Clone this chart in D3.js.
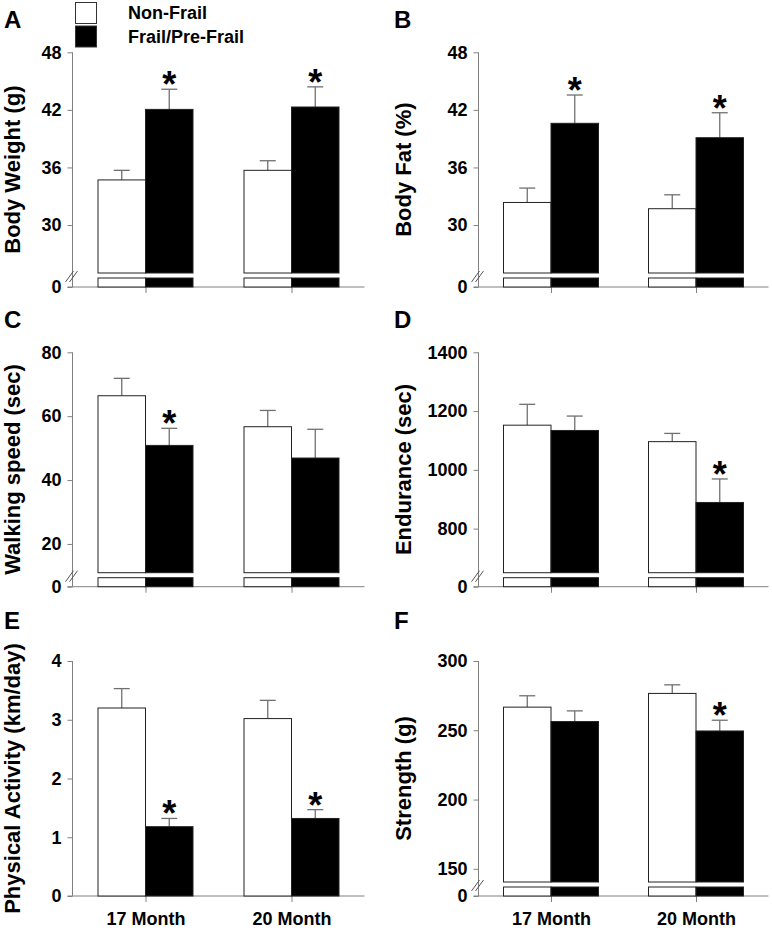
<!DOCTYPE html>
<html><head><meta charset="utf-8">
<script src="https://cdn.jsdelivr.net/npm/d3@7"></script>
<style>
body{margin:0;background:#fff}
svg{display:block}
text{font-family:"Liberation Sans",Arial,Helvetica,sans-serif;font-weight:bold;fill:#000}
</style>
</head><body>
<svg id="chart" width="772" height="930"></svg>
<script>
// ---------- DATA ----------
const categories = ["17 Month", "20 Month"];
const seriesNames = ["Non-Frail", "Frail/Pre-Frail"];

// A: Body Weight (g)
const bodyWeightNonFrail   = [34.7, 35.7];
const bodyWeightNonFrailSE = [1.0, 1.0];
const bodyWeightFrail      = [42.05, 42.3];
const bodyWeightFrailSE    = [2.1, 2.1];
const bodyWeightTicks      = [30, 36, 42, 48];
const bodyWeightSig        = [[false, true], [false, true]];

// B: Body Fat (%)
const bodyFatNonFrail   = [32.35, 31.7];
const bodyFatNonFrailSE = [1.5, 1.45];
const bodyFatFrail      = [40.6, 39.1];
const bodyFatFrailSE    = [2.95, 2.6];
const bodyFatTicks      = [30, 36, 42, 48];
const bodyFatSig        = [[false, true], [false, true]];

// C: Walking speed (sec)
const walkingNonFrail   = [66.4, 56.7];
const walkingNonFrailSE = [5.45, 5.1];
const walkingFrail      = [50.85, 46.9];
const walkingFrailSE    = [5.35, 9.0];
const walkingTicks      = [20, 40, 60, 80];
const walkingSig        = [[false, true], [false, false]];

// D: Endurance (sec)
const enduranceNonFrail   = [1152, 1096];
const enduranceNonFrailSE = [71, 28];
const enduranceFrail      = [1134, 889];
const enduranceFrailSE    = [49, 80];
const enduranceTicks      = [800, 1000, 1200, 1400];
const enduranceSig        = [[false, false], [false, true]];

// E: Physical Activity (km/day)
const activityNonFrail   = [3.20, 3.02];
const activityNonFrailSE = [0.33, 0.31];
const activityFrail      = [1.18, 1.32];
const activityFrailSE    = [0.14, 0.15];
const activityTicks      = [0, 1, 2, 3, 4];
const activitySig        = [[false, true], [false, true]];

// F: Strength (g)
const strengthNonFrail   = [266.7, 276.6];
const strengthNonFrailSE = [8.2, 6.2];
const strengthFrail      = [256.3, 249.5];
const strengthFrailSE    = [7.7, 7.75];
const strengthTicks      = [150, 200, 250, 300];
const strengthSig        = [[false, false], [false, true]];

// ---------- PANEL CONFIG ----------
const panels = [
  {letter:"A", title:"Body Weight (g)", col:0, row:0, domain:[25,48], brk:true,
   nf:bodyWeightNonFrail, nfse:bodyWeightNonFrailSE, fr:bodyWeightFrail, frse:bodyWeightFrailSE, ticks:bodyWeightTicks, sig:bodyWeightSig},
  {letter:"B", title:"Body Fat (%)", col:1, row:0, domain:[25,48], brk:true,
   nf:bodyFatNonFrail, nfse:bodyFatNonFrailSE, fr:bodyFatFrail, frse:bodyFatFrailSE, ticks:bodyFatTicks, sig:bodyFatSig},
  {letter:"C", title:"Walking speed (sec)", col:0, row:1, domain:[11,80], brk:true,
   nf:walkingNonFrail, nfse:walkingNonFrailSE, fr:walkingFrail, frse:walkingFrailSE, ticks:walkingTicks, sig:walkingSig},
  {letter:"D", title:"Endurance (sec)", col:1, row:1, domain:[650,1400], brk:true,
   nf:enduranceNonFrail, nfse:enduranceNonFrailSE, fr:enduranceFrail, frse:enduranceFrailSE, ticks:enduranceTicks, sig:enduranceSig},
  {letter:"E", title:"Physical Activity (km/day)", col:0, row:2, domain:[0,4], brk:false,
   nf:activityNonFrail, nfse:activityNonFrailSE, fr:activityFrail, frse:activityFrailSE, ticks:activityTicks, sig:activitySig},
  {letter:"F", title:"Strength (g)", col:1, row:2, domain:[140.5,300], brk:true,
   nf:strengthNonFrail, nfse:strengthNonFrailSE, fr:strengthFrail, frse:strengthFrailSE, ticks:strengthTicks, sig:strengthSig}
];

const colAxisX = [72.5, 478.5];
const colWidth = [292, 290];
const colTitleX = [20, 411];
const colLetterX = [4, 394];
const rowTop = [52.3, 352.3, 661];
const rowZero = [287, 586.7, 896];
const rowLetterY = [28, 328, 629];

const axisColor = "#808080";
const barStroke = "#222";
const errColor = "#707070";
const barW = 47.5;
const tickFont = 18;

const svg = d3.select("#chart");

panels.forEach(p => {
  const ax = colAxisX[p.col], w = colWidth[p.col];
  const yTop = rowTop[p.row], yZero = rowZero[p.row];
  const yBottom = p.brk ? yZero - 14 : yZero;
  const stubTop = yZero - 9;
  const g = svg.append("g");

  const x = d3.scalePoint().domain(categories).range([ax, ax + w]).padding(0.5);
  const y = d3.scaleLinear().domain(p.domain).range([yBottom, yTop]);

  // panel letter
  g.append("text").attr("x", colLetterX[p.col]).attr("y", rowLetterY[p.row])
    .attr("font-size", 24).text(p.letter);

  // axis title
  g.append("text")
    .attr("transform", `translate(${colTitleX[p.col]},${(yTop + yZero) / 2}) rotate(-90)`)
    .attr("text-anchor", "middle").attr("font-size", 22).text(p.title);

  // y axis (upper)
  const yAxis = d3.axisLeft(y).tickValues(p.ticks).tickSize(5).tickPadding(6).tickFormat(d3.format("d"));
  const ya = g.append("g").attr("transform", `translate(${ax},0)`).call(yAxis);
  ya.select(".domain").remove();
  ya.selectAll(".tick line").attr("stroke", axisColor);
  ya.selectAll(".tick text").attr("font-size", tickFont).attr("font-family", null);

  // y axis line
  g.append("line").attr("x1", ax).attr("x2", ax).attr("y1", yTop).attr("y2", yZero)
    .attr("stroke", axisColor).attr("stroke-width", 1);

  if (p.brk) {
    // zero tick for lower segment
    const yLow = d3.scaleLinear().domain([0, 1]).range([yZero, stubTop]);
    const yl = g.append("g").attr("transform", `translate(${ax},0)`)
      .call(d3.axisLeft(yLow).tickValues([0]).tickSize(5).tickPadding(6).tickFormat(d3.format("d")));
    yl.select(".domain").remove();
    yl.selectAll(".tick line").attr("stroke", axisColor);
    yl.selectAll(".tick text").attr("font-size", tickFont).attr("font-family", null);
    // break marks
    const cy = yZero - 11;
    [-2, 2].forEach(off => {
      g.append("line").attr("x1", ax - 5 + off).attr("y1", cy + 6)
        .attr("x2", ax + 3 + off).attr("y2", cy - 5)
        .attr("stroke", "#555").attr("stroke-width", 1);
    });
  }

  // x axis
  g.append("line").attr("x1", ax - 5).attr("x2", ax + w).attr("y1", yZero).attr("y2", yZero)
    .attr("stroke", axisColor).attr("stroke-width", 1);
  const xAxis = d3.axisBottom(x).tickSize(6).tickPadding(10);
  if (p.row !== 2) xAxis.tickFormat("");
  const xa = g.append("g").attr("transform", `translate(0,${yZero})`).call(xAxis);
  xa.select(".domain").remove();
  xa.selectAll(".tick line").attr("stroke", axisColor);
  xa.selectAll(".tick text").attr("font-size", tickFont).attr("font-family", null);

  // bars
  const series = [
    {vals: p.nf, se: p.nfse, fill: "#fff", off: -barW, si: 0},
    {vals: p.fr, se: p.frse, fill: "#000", off: 0, si: 1}
  ];
  series.forEach(s => {
    categories.forEach((c, i) => {
      const bx = x(c) + s.off;
      const v = s.vals[i];
      const cx = bx + barW / 2;
      // error bar (upper only)
      const ey = y(v + s.se[i]);
      g.append("line").attr("x1", cx).attr("x2", cx).attr("y1", y(v)).attr("y2", ey)
        .attr("stroke", errColor).attr("stroke-width", 1.3);
      g.append("line").attr("x1", cx - 8).attr("x2", cx + 8).attr("y1", ey).attr("y2", ey)
        .attr("stroke", errColor).attr("stroke-width", 1.3);
      g.append("rect").attr("x", bx).attr("y", y(v)).attr("width", barW)
        .attr("height", yBottom - y(v))
        .attr("fill", s.fill).attr("stroke", barStroke).attr("stroke-width", 1);
      if (p.brk) {
        g.append("rect").attr("x", bx).attr("y", stubTop).attr("width", barW)
          .attr("height", yZero - stubTop)
          .attr("fill", s.fill).attr("stroke", barStroke).attr("stroke-width", 1);
      }
      if (p.sig[i][s.si]) {
        g.append("text").attr("x", cx).attr("y", ey - 13 + 21)
          .attr("text-anchor", "middle").attr("font-size", 36).text("*");
      }
    });
  });
});

// legend
const leg = svg.append("g");
seriesNames.forEach((n, i) => {
  leg.append("rect").attr("x", 75.5).attr("y", 2.5 + i * 23.5).attr("width", 21).attr("height", 21)
    .attr("fill", i === 0 ? "#fff" : "#000").attr("stroke", "#333").attr("stroke-width", 1);
  leg.append("text").attr("x", 128).attr("y", 19 + i * 24).attr("font-size", 18).text(n);
});
</script>
</body></html>
